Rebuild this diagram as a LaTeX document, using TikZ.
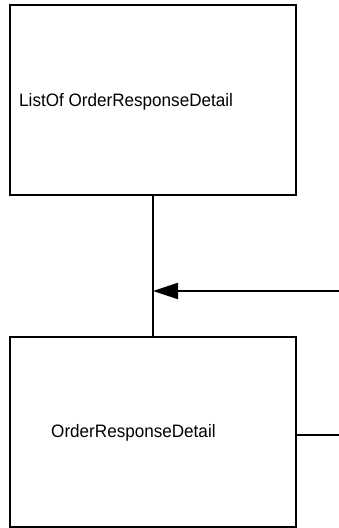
\documentclass[tikz,border=0pt]{standalone}
\usepackage{fontspec}
\setmainfont{Liberation Sans}
\usepackage{tikz}
\usetikzlibrary{arrows.meta,positioning,calc}

% narrow class names, as the drawing tool sets them
\newcommand{\narrowname}[1]{\scalebox{0.95}[1]{#1}}

\begin{document}
\begin{tikzpicture}[x=1pt, y=1pt,
    classbox/.style={draw, line width=2pt, minimum width=286pt, minimum height=190pt, inner sep=0pt},
    classname/.style={inner sep=0pt, font=\fontsize{18}{20}\selectfont},
    link/.style={line width=2pt}]
    \useasboundingbox (0,0) rectangle (339,528);

    \node[classbox] (list) at (153,427.5) {};
    \node[classbox] (detail) at (153,96) {};

    \node[classname, right=10pt of list.west, yshift=-1pt] (listname) {\narrowname{ListOf OrderResponseDetail}};
    \node[classname, right=42pt of detail.west, yshift=-0.7pt] (detailname) {\narrowname{OrderResponseDetail}};

    \coordinate (src) at (339,237);
    \coordinate (join) at (list.south |- src);
    \coordinate (out) at (339,93);

    \draw[link] (list.south) -- (detail.north);
    \draw[link, -{Triangle[length=25pt,width=16pt]}] (src) -- (join);
    \draw[link] (detail.east |- out) -- (out);
\end{tikzpicture}
\end{document}
